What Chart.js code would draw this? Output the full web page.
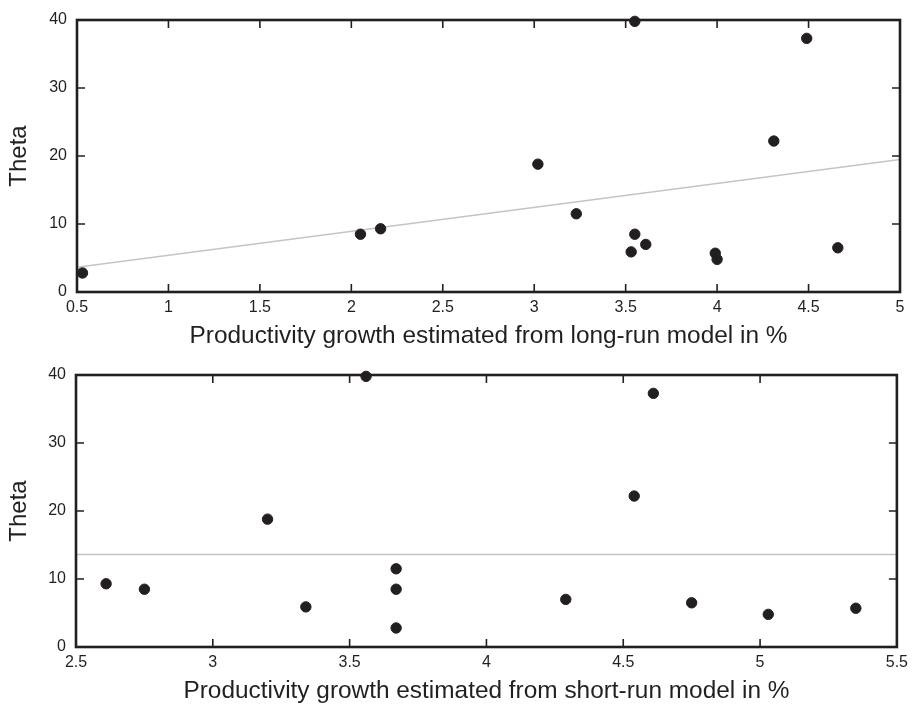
<!DOCTYPE html>
<html>
<head>
<meta charset="utf-8">
<script src="https://cdn.jsdelivr.net/npm/chart.js@4.4.0/dist/chart.umd.min.js"></script>
<style>
    html, body { margin: 0; padding: 0; background: #fff; }
    canvas { position: absolute; left: 0; }
    #topChart { top: 0; }
    #bottomChart { top: 352px; }
</style>
</head>
<body>
<canvas id="topChart" width="914" height="352"></canvas>
<canvas id="bottomChart" width="914" height="352"></canvas>
<script>
// shared Theta values (one per country)
const theta = [2.8, 4.8, 5.7, 5.9, 6.5, 7.0, 8.5, 8.5, 9.3, 11.5, 18.8, 22.2, 37.3, 39.8];
// productivity growth, long-run and short-run model (%)
const longRunGrowth = [0.53, 4.00, 3.99, 3.53, 4.66, 3.61, 2.05, 3.55, 2.16, 3.23, 3.02, 4.31, 4.49, 3.55];
const shortRunGrowth = [3.67, 5.03, 5.35, 3.34, 4.75, 4.29, 2.75, 3.67, 2.61, 3.67, 3.20, 4.54, 4.61, 3.56];

// fitted lines (end points)
const longFitX = [0.5, 5];
const longFitY = [3.65, 19.5];
const shortFitX = [2.5, 5.5];
const shortFitY = [13.6, 13.6];

// tick labels
const longTicksX = [0.5, 1, 1.5, 2, 2.5, 3, 3.5, 4, 4.5, 5];
const shortTicksX = [2.5, 3, 3.5, 4, 4.5, 5, 5.5];
const thetaTicks = [0, 10, 20, 30, 40];

const ink = '#231f20';
const fontName = "'Liberation Sans', Arial, Helvetica, sans-serif";

// frame with inward tick marks on all four sides
const framePlugin = {
    id: 'frame',
    afterDraw(chart) {
        const ctx = chart.ctx;
        const a = chart.chartArea;
        const xs = chart.scales.x, ys = chart.scales.y;
        ctx.save();
        ctx.strokeStyle = ink;
        ctx.lineWidth = 1.6;
        xs.ticks.forEach(t => {
            const px = xs.getPixelForValue(t.value);
            if (px <= a.left + 2 || px >= a.right - 2) return;
            ctx.beginPath();
            ctx.moveTo(px, a.bottom); ctx.lineTo(px, a.bottom - 8);
            ctx.moveTo(px, a.top); ctx.lineTo(px, a.top + 8);
            ctx.stroke();
        });
        ys.ticks.forEach(t => {
            const py = ys.getPixelForValue(t.value);
            if (py <= a.top + 2 || py >= a.bottom - 2) return;
            ctx.beginPath();
            ctx.moveTo(a.left, py); ctx.lineTo(a.left + 8, py);
            ctx.moveTo(a.right, py); ctx.lineTo(a.right - 8, py);
            ctx.stroke();
        });
        ctx.lineWidth = 2.6;
        ctx.strokeRect(a.left, a.top, a.right - a.left, a.bottom - a.top);
        ctx.restore();
    }
};

function makeChart(id, xValues, fitX, fitY, xTicks, xMin, xMax, xTitle, pad) {
    const points = xValues.map((x, i) => ({ x: x, y: theta[i] }));
    const fit = fitX.map((x, i) => ({ x: x, y: fitY[i] }));
    return new Chart(document.getElementById(id), {
        type: 'scatter',
        data: {
            datasets: [{
                data: points,
                backgroundColor: ink,
                borderColor: ink,
                pointRadius: 5.2,
                pointHoverRadius: 5.2,
                clip: false,
                order: 1
            }, {
                type: 'line',
                data: fit,
                borderColor: '#c4c4c4',
                borderWidth: 1.5,
                pointRadius: 0,
                order: 2
            }]
        },
        options: {
            responsive: false,
            animation: false,
            layout: { padding: pad },
            plugins: {
                legend: { display: false },
                tooltip: { enabled: false }
            },
            scales: {
                x: {
                    type: 'linear',
                    min: xMin,
                    max: xMax,
                    afterBuildTicks: s => { s.ticks = xTicks.map(v => ({ value: v })); },
                    afterFit: s => { s.height = 57; },
                    grid: { display: false, drawTicks: false },
                    border: { display: false },
                    ticks: {
                        color: ink,
                        padding: 6,
                        maxRotation: 0,
                        autoSkip: false,
                        font: { family: fontName, size: 16, lineHeight: 1.25 },
                        callback: v => String(v)
                    },
                    title: {
                        display: true,
                        text: xTitle,
                        color: ink,
                        padding: 0,
                        font: { family: fontName, size: 24.4, lineHeight: 1.03 }
                    }
                },
                y: {
                    min: 0,
                    max: 40,
                    afterBuildTicks: s => { s.ticks = thetaTicks.map(v => ({ value: v })); },
                    afterFit: s => { s.width = pad.yWidth; },
                    grid: { display: false, drawTicks: false },
                    border: { display: false },
                    ticks: {
                        color: ink,
                        padding: 10,
                        font: { family: fontName, size: 16 },
                        callback: v => String(v)
                    },
                    title: {
                        display: true,
                        text: 'Theta',
                        color: ink,
                        padding: { top: 7, bottom: 0 },
                        font: { family: fontName, size: 24, lineHeight: 1.04 }
                    }
                }
            }
        },
        plugins: [framePlugin]
    });
}

makeChart('topChart', longRunGrowth, longFitX, longFitY, longTicksX, 0.5, 5,
    'Productivity growth estimated from long-run model in %',
    { top: 20, right: 14, bottom: 3, left: 0, yWidth: 77 });

makeChart('bottomChart', shortRunGrowth, shortFitX, shortFitY, shortTicksX, 2.5, 5.5,
    'Productivity growth estimated from short-run model in %',
    { top: 23, right: 13, bottom: 0, left: 0, yWidth: 76 });
</script>
</body>
</html>
